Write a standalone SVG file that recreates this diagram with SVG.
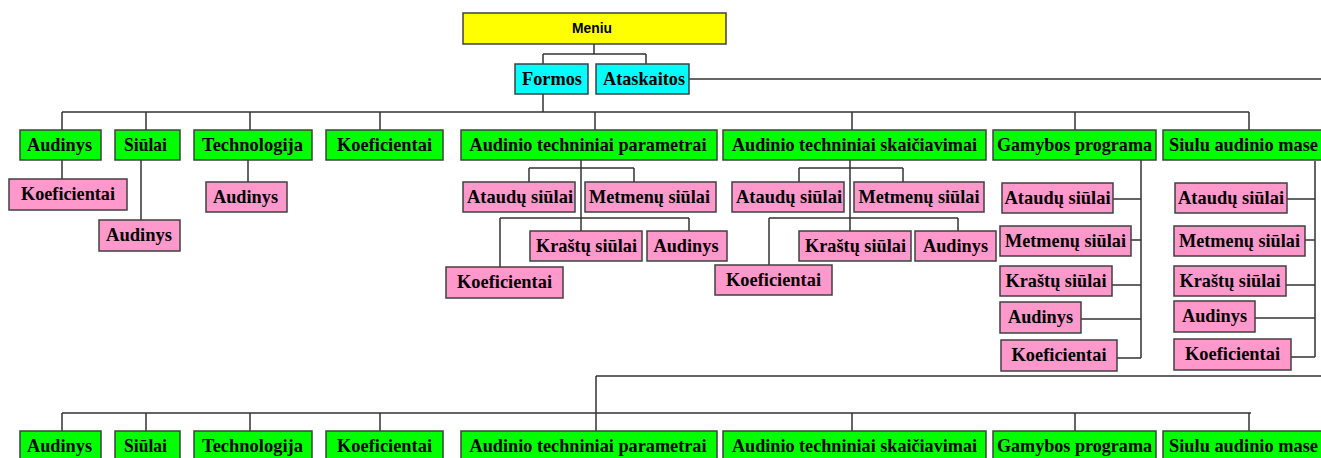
<svg xmlns="http://www.w3.org/2000/svg" width="1321" height="458" viewBox="0 0 1321 458">
<style>
rect{stroke:#404040;stroke-width:1.5}
.y{fill:#ffff00}.c{fill:#00ffff}.g{fill:#00ff00}.p{fill:#ff99cc}
text{font-family:"Liberation Serif",serif;font-weight:bold;font-size:19px;fill:#000;text-anchor:middle}
text.s{font-family:"Liberation Sans",Arial,sans-serif;font-size:14px}
#connectors path{fill:none;stroke:#333;stroke-width:1.5}
</style>
<rect width="1321" height="458" fill="#fff" style="stroke:none"/>
<g id="connectors">
<path d="M594 44V54M543 54H646M543 54V64M646 54V64"/>
<path d="M689 79H1321"/>
<path d="M543 94V112M62 112H1249M62 112V130M146 112V130M250 112V130M380 112V130M595 112V130M852 112V130M1075 112V130M1249 112V130"/>
<path d="M62 160V179M141 160V220M248 160V182"/>
<path d="M581 160V231M529 168H634M529 168V182M634 168V182M500 218H689M500 218V267M689 218V231"/>
<path d="M850 160V231M799 168H903M799 168V182M903 168V182M769 218H958M769 218V265M958 218V231"/>
<path d="M1141 160V358M1113 199H1141M1131 240H1141M1112 285H1141M1081 319H1141M1117 358H1141"/>
<path d="M1315 161V357M1287 199H1315M1305 240H1315M1286 285H1315M1255 318H1315M1291 357H1315"/>
<path d="M596 376H1321M596 376V431M62 413H1251M62 413V431M146 413V431M250 413V431M380 413V431M852 413V431M1075 413V431M1249 413V431"/>
</g>
<g id="meniu"><rect class="y" x="463" y="13" width="263" height="31"/><text class="s" x="592" y="33" textLength="40" lengthAdjust="spacingAndGlyphs">Meniu</text></g>
<g id="formos"><rect class="c" x="515" y="64" width="73" height="30"/><text x="552" y="85" textLength="60" lengthAdjust="spacingAndGlyphs">Formos</text></g>
<g id="ataskaitos"><rect class="c" x="596" y="64" width="93" height="30"/><text x="644" y="85" textLength="82" lengthAdjust="spacingAndGlyphs">Ataskaitos</text></g>

<g id="f-audinys"><rect class="g" x="20" y="130" width="81" height="30"/><text x="59.5" y="151" textLength="65" lengthAdjust="spacingAndGlyphs">Audinys</text></g>
<g id="f-siulai"><rect class="g" x="115" y="130" width="65" height="30"/><text x="145.5" y="151" textLength="43" lengthAdjust="spacingAndGlyphs">Siūlai</text></g>
<g id="f-technologija"><rect class="g" x="194" y="130" width="118" height="30"/><text x="252.5" y="151" textLength="101" lengthAdjust="spacingAndGlyphs">Technologija</text></g>
<g id="f-koeficientai"><rect class="g" x="326" y="130" width="117" height="30"/><text x="384.5" y="151" textLength="95" lengthAdjust="spacingAndGlyphs">Koeficientai</text></g>
<g id="f-atp"><rect class="g" x="461" y="130" width="256" height="30"/><text x="588" y="151" textLength="237" lengthAdjust="spacingAndGlyphs">Audinio techniniai parametrai</text></g>
<g id="f-ats"><rect class="g" x="723" y="130" width="263" height="30"/><text x="854.5" y="151" textLength="245" lengthAdjust="spacingAndGlyphs">Audinio techniniai skaičiavimai</text></g>
<g id="f-gamybos"><rect class="g" x="993" y="130" width="163" height="30"/><text x="1074.5" y="151" textLength="155" lengthAdjust="spacingAndGlyphs">Gamybos programa</text></g>
<g id="f-siulu"><rect class="g" x="1163" y="130" width="170" height="30"/><text x="1243.5" y="151" textLength="149" lengthAdjust="spacingAndGlyphs">Siulu audinio mase</text></g>

<g id="f-audinys-koef"><rect class="p" x="9" y="179" width="118" height="31"/><text x="68" y="200" textLength="94" lengthAdjust="spacingAndGlyphs">Koeficientai</text></g>
<g id="f-siulai-audinys"><rect class="p" x="99" y="220" width="81" height="31"/><text x="139" y="241" textLength="66" lengthAdjust="spacingAndGlyphs">Audinys</text></g>
<g id="f-tech-audinys"><rect class="p" x="206" y="182" width="81" height="30"/><text x="245.5" y="203" textLength="65" lengthAdjust="spacingAndGlyphs">Audinys</text></g>

<g id="atp-ataudu"><rect class="p" x="463" y="182" width="112" height="30"/><text x="520" y="203" textLength="106" lengthAdjust="spacingAndGlyphs">Ataudų siūlai</text></g>
<g id="atp-metmenu"><rect class="p" x="585" y="182" width="131" height="30"/><text x="649.5" y="203" textLength="121" lengthAdjust="spacingAndGlyphs">Metmenų siūlai</text></g>
<g id="atp-krastu"><rect class="p" x="530" y="231" width="112" height="30"/><text x="586.5" y="252" textLength="101" lengthAdjust="spacingAndGlyphs">Kraštų siūlai</text></g>
<g id="atp-audinys"><rect class="p" x="647" y="231" width="80" height="30"/><text x="686" y="252" textLength="65" lengthAdjust="spacingAndGlyphs">Audinys</text></g>
<g id="atp-koef"><rect class="p" x="446" y="267" width="117" height="31"/><text x="504.5" y="288" textLength="95" lengthAdjust="spacingAndGlyphs">Koeficientai</text></g>

<g id="ats-ataudu"><rect class="p" x="732" y="182" width="112" height="30"/><text x="789" y="203" textLength="106" lengthAdjust="spacingAndGlyphs">Ataudų siūlai</text></g>
<g id="ats-metmenu"><rect class="p" x="854" y="182" width="130" height="30"/><text x="919" y="203" textLength="121" lengthAdjust="spacingAndGlyphs">Metmenų siūlai</text></g>
<g id="ats-krastu"><rect class="p" x="799" y="231" width="112" height="30"/><text x="855.5" y="252" textLength="101" lengthAdjust="spacingAndGlyphs">Kraštų siūlai</text></g>
<g id="ats-audinys"><rect class="p" x="915" y="231" width="81" height="30"/><text x="955.5" y="252" textLength="65" lengthAdjust="spacingAndGlyphs">Audinys</text></g>
<g id="ats-koef"><rect class="p" x="715" y="265" width="117" height="30"/><text x="773.5" y="286" textLength="95" lengthAdjust="spacingAndGlyphs">Koeficientai</text></g>

<g id="gp-ataudu"><rect class="p" x="1002" y="183" width="111" height="30"/><text x="1057.5" y="204" textLength="106" lengthAdjust="spacingAndGlyphs">Ataudų siūlai</text></g>
<g id="gp-metmenu"><rect class="p" x="1000" y="226" width="131" height="30"/><text x="1065.5" y="247" textLength="121" lengthAdjust="spacingAndGlyphs">Metmenų siūlai</text></g>
<g id="gp-krastu"><rect class="p" x="1000" y="266" width="112" height="30"/><text x="1056" y="287" textLength="101" lengthAdjust="spacingAndGlyphs">Kraštų siūlai</text></g>
<g id="gp-audinys"><rect class="p" x="1000" y="302" width="81" height="31"/><text x="1040.5" y="323" textLength="65" lengthAdjust="spacingAndGlyphs">Audinys</text></g>
<g id="gp-koef"><rect class="p" x="1001" y="340" width="116" height="31"/><text x="1059" y="361" textLength="95" lengthAdjust="spacingAndGlyphs">Koeficientai</text></g>

<g id="sam-ataudu"><rect class="p" x="1175" y="183" width="112" height="30"/><text x="1231" y="204" textLength="106" lengthAdjust="spacingAndGlyphs">Ataudų siūlai</text></g>
<g id="sam-metmenu"><rect class="p" x="1174" y="226" width="131" height="30"/><text x="1239.5" y="247" textLength="121" lengthAdjust="spacingAndGlyphs">Metmenų siūlai</text></g>
<g id="sam-krastu"><rect class="p" x="1174" y="266" width="112" height="30"/><text x="1230" y="287" textLength="101" lengthAdjust="spacingAndGlyphs">Kraštų siūlai</text></g>
<g id="sam-audinys"><rect class="p" x="1174" y="301" width="81" height="31"/><text x="1214.5" y="322" textLength="65" lengthAdjust="spacingAndGlyphs">Audinys</text></g>
<g id="sam-koef"><rect class="p" x="1174" y="339" width="117" height="31"/><text x="1232.5" y="360" textLength="95" lengthAdjust="spacingAndGlyphs">Koeficientai</text></g>

<g id="a-audinys"><rect class="g" x="20" y="431" width="81" height="30"/><text x="59.5" y="452" textLength="65" lengthAdjust="spacingAndGlyphs">Audinys</text></g>
<g id="a-siulai"><rect class="g" x="115" y="431" width="65" height="30"/><text x="145.5" y="452" textLength="43" lengthAdjust="spacingAndGlyphs">Siūlai</text></g>
<g id="a-technologija"><rect class="g" x="194" y="431" width="118" height="30"/><text x="252.5" y="452" textLength="101" lengthAdjust="spacingAndGlyphs">Technologija</text></g>
<g id="a-koeficientai"><rect class="g" x="326" y="431" width="117" height="30"/><text x="384.5" y="452" textLength="95" lengthAdjust="spacingAndGlyphs">Koeficientai</text></g>
<g id="a-atp"><rect class="g" x="461" y="431" width="256" height="30"/><text x="588" y="452" textLength="237" lengthAdjust="spacingAndGlyphs">Audinio techniniai parametrai</text></g>
<g id="a-ats"><rect class="g" x="723" y="431" width="263" height="30"/><text x="854.5" y="452" textLength="245" lengthAdjust="spacingAndGlyphs">Audinio techniniai skaičiavimai</text></g>
<g id="a-gamybos"><rect class="g" x="993" y="431" width="163" height="30"/><text x="1074.5" y="452" textLength="155" lengthAdjust="spacingAndGlyphs">Gamybos programa</text></g>
<g id="a-siulu"><rect class="g" x="1163" y="431" width="170" height="30"/><text x="1243.5" y="452" textLength="149" lengthAdjust="spacingAndGlyphs">Siulu audinio mase</text></g>
</svg>
